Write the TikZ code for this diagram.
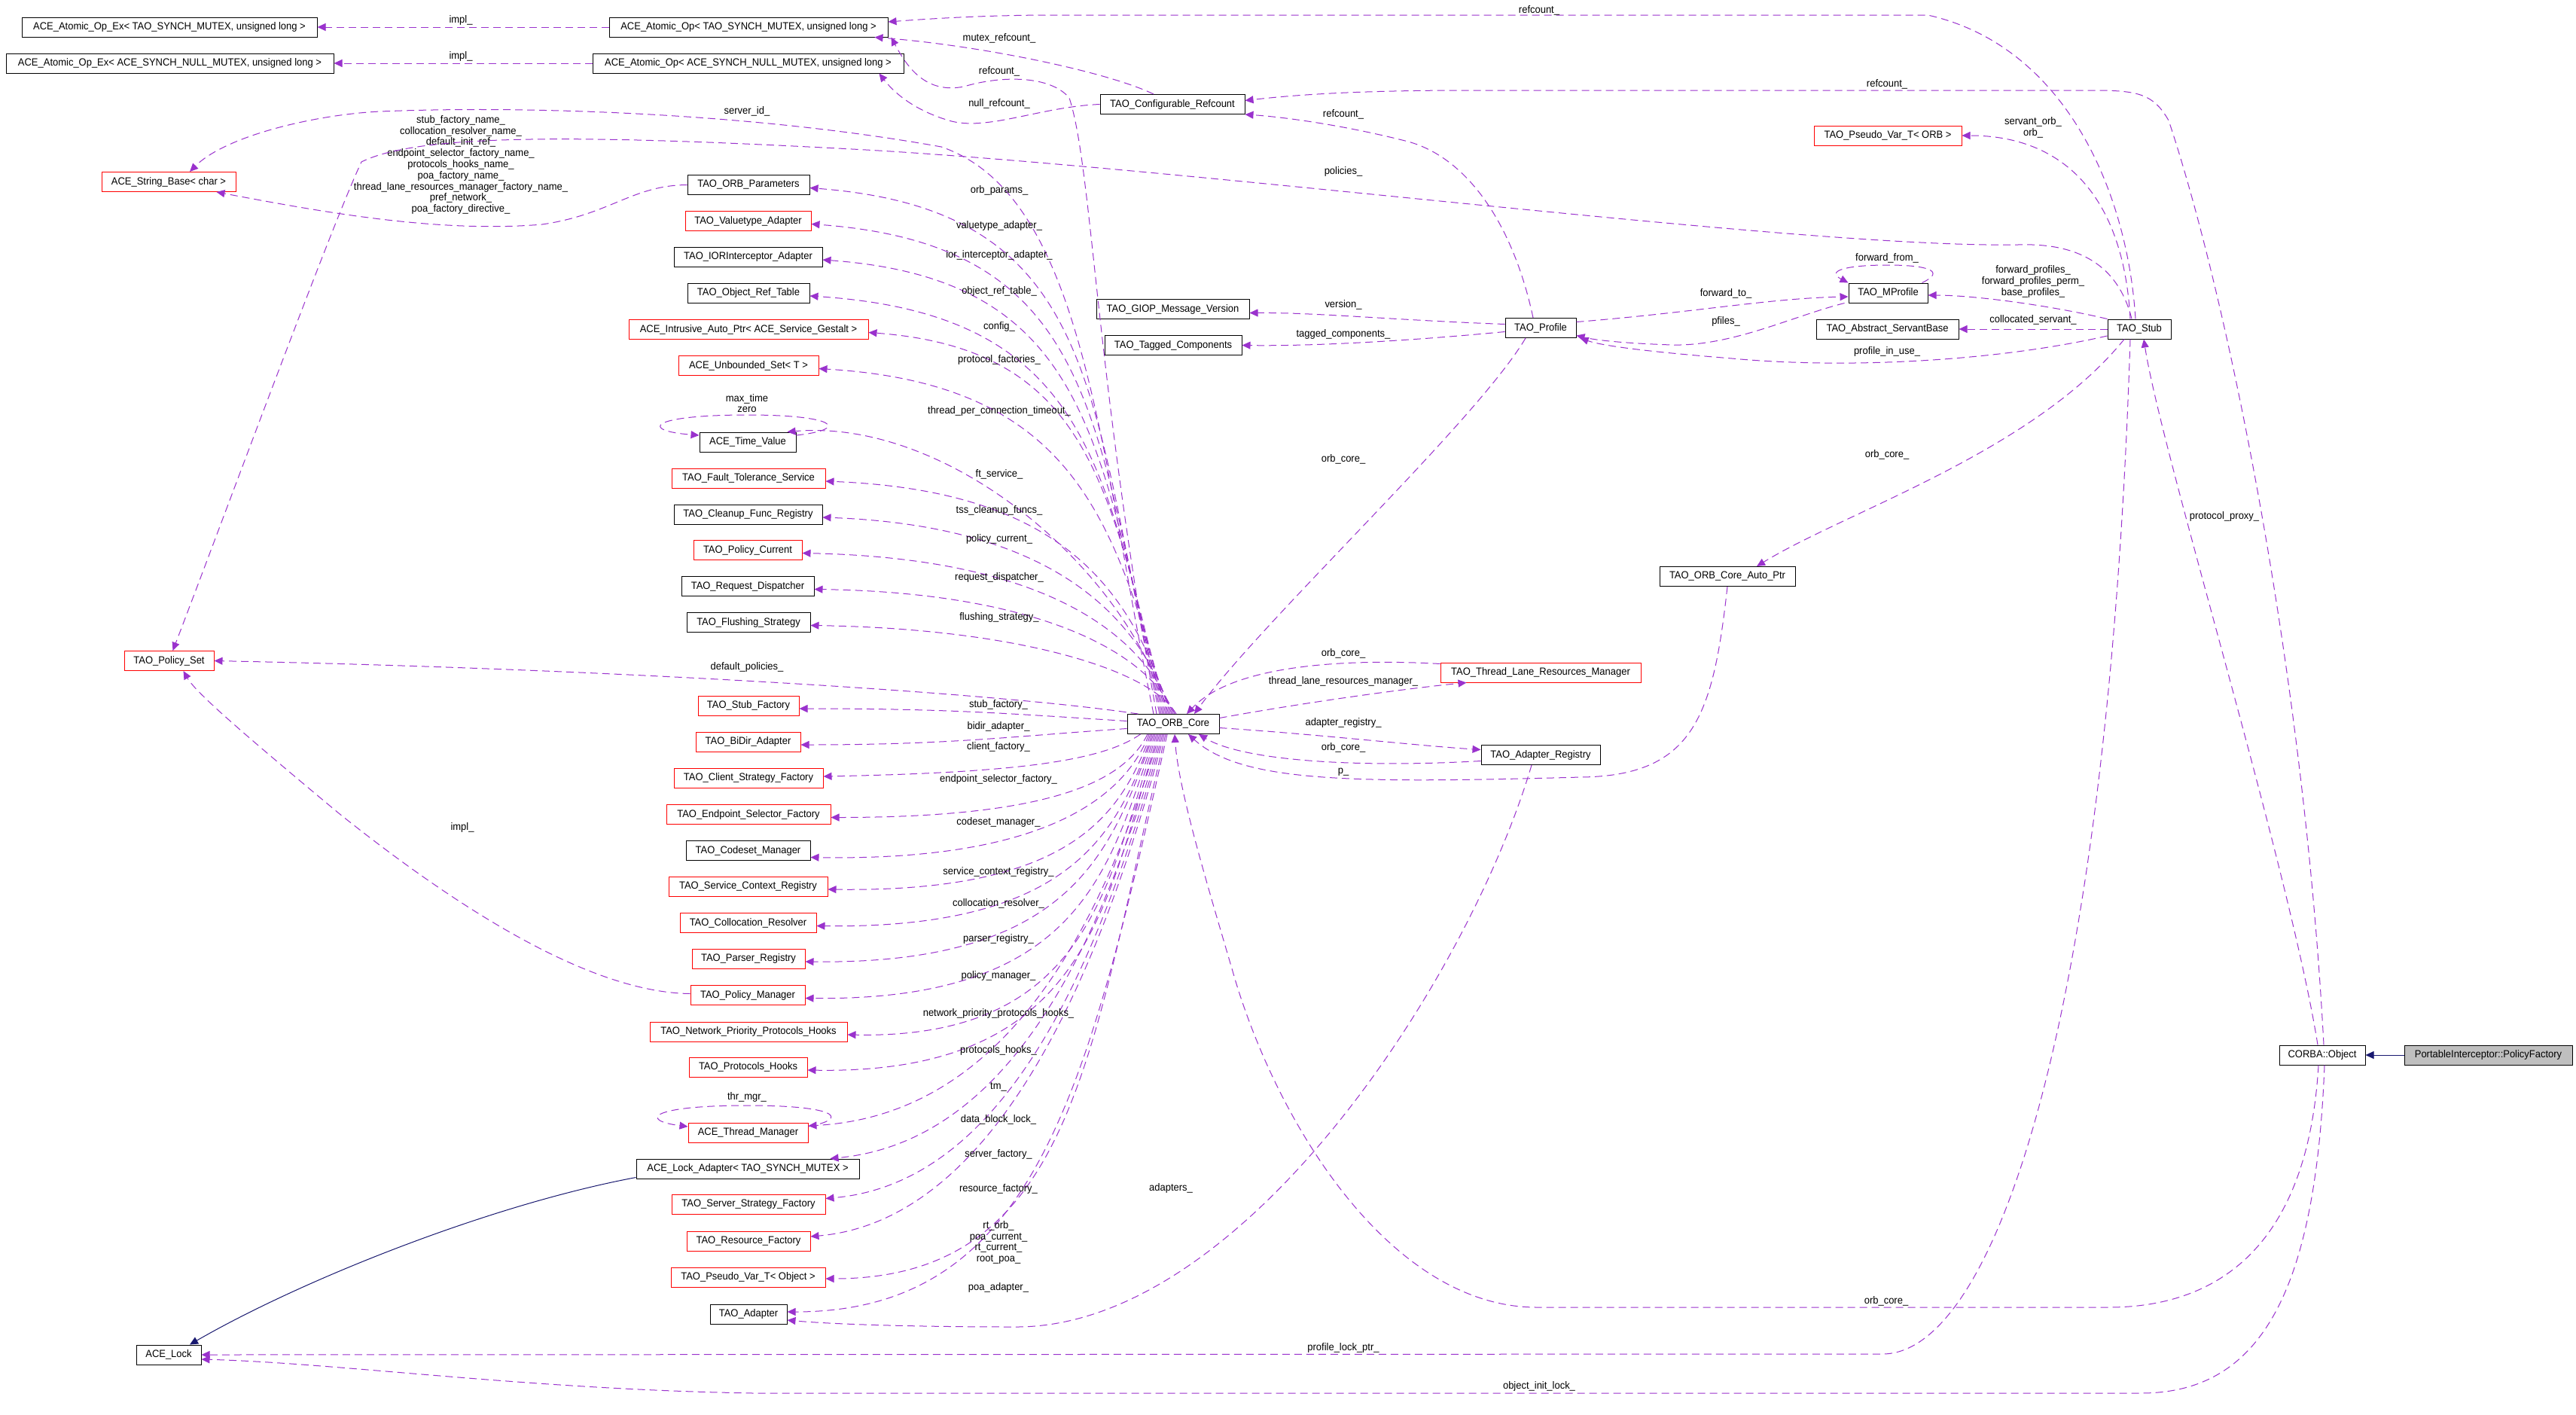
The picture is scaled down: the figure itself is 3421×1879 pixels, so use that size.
\documentclass[tikz,border=0pt]{standalone}
\usepackage{fontspec}
\setmainfont{Liberation Sans}[FakeStretch=0.94]
\usetikzlibrary{arrows.meta,calc}
\definecolor{memc}{HTML}{9A32CD}
\definecolor{inhc}{HTML}{191970}
\definecolor{gfill}{HTML}{BFBFBF}
\begin{document}
\begin{tikzpicture}[x=0.5pt,y=-0.5pt,
  every node/.style={font=\fontsize{6.9pt}{7.4pt}\selectfont},
  cls/.style={draw=black,line width=0.5pt,minimum height=13pt,inner sep=0pt},
  clsr/.style={cls,draw=red},
  clsg/.style={cls,fill=gfill},
  mem/.style={draw=memc,line width=0.5pt,dash pattern=on 5pt off 3pt,-{Triangle[length=5.5pt,width=5pt,fill=memc]}},
  inh/.style={draw=inhc,line width=0.5pt,-{Triangle[length=5.5pt,width=5pt,fill=inhc]}},
  lbl/.style={inner sep=0pt,align=center}]
\fill[white] (0,0) rectangle (3421,1879);
\useasboundingbox (0,0) rectangle (3421,1879);
% ---------- nodes ----------
\node[cls,minimum width=196pt] (exmutex) at (225,36) {ACE\_Atomic\_Op\_Ex< TAO\_SYNCH\_MUTEX, unsigned long >};
\node[cls,minimum width=217.5pt] (exnull) at (225.5,84) {ACE\_Atomic\_Op\_Ex< ACE\_SYNCH\_NULL\_MUTEX, unsigned long >};
\node[cls,minimum width=185pt] (opmutex) at (994,36) {ACE\_Atomic\_Op< TAO\_SYNCH\_MUTEX, unsigned long >};
\node[cls,minimum width=206.5pt] (opnull) at (993.5,84) {ACE\_Atomic\_Op< ACE\_SYNCH\_NULL\_MUTEX, unsigned long >};
\node[clsr,minimum width=89pt] (strbase) at (224,241.5) {ACE\_String\_Base< char >};
\node[cls,minimum width=81pt] (params) at (994,245.5) {TAO\_ORB\_Parameters};
\node[clsr,minimum width=83.5pt] (valtype) at (993.5,293.5) {TAO\_Valuetype\_Adapter};
\node[cls,minimum width=98.5pt] (ior) at (993.5,341) {TAO\_IORInterceptor\_Adapter};
\node[cls,minimum width=81pt] (objref) at (994,389) {TAO\_Object\_Ref\_Table};
\node[clsr,minimum width=159pt] (config) at (994,437.5) {ACE\_Intrusive\_Auto\_Ptr< ACE\_Service\_Gestalt >};
\node[clsr,minimum width=93pt] (unbset) at (994,485.5) {ACE\_Unbounded\_Set< T >};
\node[cls,minimum width=64pt] (timeval) at (993,587) {ACE\_Time\_Value};
\node[clsr,minimum width=102pt] (ft) at (994,635) {TAO\_Fault\_Tolerance\_Service};
\node[cls,minimum width=98.5pt] (cleanup) at (993.5,683) {TAO\_Cleanup\_Func\_Registry};
\node[clsr,minimum width=72pt] (polcur) at (993,730.5) {TAO\_Policy\_Current};
\node[cls,minimum width=88pt] (reqdisp) at (993,778.5) {TAO\_Request\_Dispatcher};
\node[cls,minimum width=82pt] (flush) at (994,826.5) {TAO\_Flushing\_Strategy};
\node[clsr,minimum width=59.5pt] (polset) at (224.5,877.5) {TAO\_Policy\_Set};
\node[clsr,minimum width=67pt] (stubfac) at (994,937) {TAO\_Stub\_Factory};
\node[clsr,minimum width=69.5pt] (bidir) at (993.5,985) {TAO\_BiDir\_Adapter};
\node[clsr,minimum width=99pt] (clientfac) at (994,1033) {TAO\_Client\_Strategy\_Factory};
\node[clsr,minimum width=109pt] (endpoint) at (994,1081.5) {TAO\_Endpoint\_Selector\_Factory};
\node[cls,minimum width=82.5pt] (codeset) at (993.5,1129.5) {TAO\_Codeset\_Manager};
\node[clsr,minimum width=105.5pt] (svcctx) at (993.5,1177) {TAO\_Service\_Context\_Registry};
\node[clsr,minimum width=90.5pt] (colloc) at (993.5,1225.5) {TAO\_Collocation\_Resolver};
\node[clsr,minimum width=75pt] (parser) at (994,1273) {TAO\_Parser\_Registry};
\node[clsr,minimum width=76pt] (polmgr) at (993,1321.5) {TAO\_Policy\_Manager};
\node[clsr,minimum width=131pt] (nethooks) at (994,1370) {TAO\_Network\_Priority\_Protocols\_Hooks};
\node[clsr,minimum width=78.5pt] (prothooks) at (993.5,1417) {TAO\_Protocols\_Hooks};
\node[clsr,minimum width=79.5pt] (thrmgr) at (993.5,1504) {ACE\_Thread\_Manager};
\node[cls,minimum width=148pt] (lockadapter) at (993,1552) {ACE\_Lock\_Adapter< TAO\_SYNCH\_MUTEX >};
\node[clsr,minimum width=102pt] (serverfac) at (994,1599.5) {TAO\_Server\_Strategy\_Factory};
\node[clsr,minimum width=82pt] (resfac) at (994,1648) {TAO\_Resource\_Factory};
\node[clsr,minimum width=102.5pt] (pseudoobj) at (993.5,1696) {TAO\_Pseudo\_Var\_T< Object >};
\node[cls,minimum width=51pt] (adapter) at (994,1745) {TAO\_Adapter};
\node[cls,minimum width=43pt] (acelock) at (224,1799) {ACE\_Lock};
\node[cls,minimum width=96pt] (confref) at (1557,138.5) {TAO\_Configurable\_Refcount};
\node[cls,minimum width=101.5pt] (giop) at (1557.5,410.5) {TAO\_GIOP\_Message\_Version};
\node[cls,minimum width=91pt] (tagged) at (1558,458.5) {TAO\_Tagged\_Components};
\node[cls,minimum width=61pt] (orbcore) at (1558,961.5) {TAO\_ORB\_Core};
\node[clsr,minimum width=133pt] (tlrm) at (2046,893) {TAO\_Thread\_Lane\_Resources\_Manager};
\node[cls,minimum width=79pt] (adreg) at (2046,1002.5) {TAO\_Adapter\_Registry};
\node[cls,minimum width=47pt] (profile) at (2046,435.5) {TAO\_Profile};
\node[cls,minimum width=52.5pt] (mprofile) at (2507.5,389) {TAO\_MProfile};
\node[cls,minimum width=94.5pt] (servantbase) at (2506.5,437) {TAO\_Abstract\_ServantBase};
\node[clsr,minimum width=98pt] (pseudoorb) at (2507,180) {TAO\_Pseudo\_Var\_T< ORB >};
\node[cls,minimum width=90pt] (autoptr) at (2294,765.5) {TAO\_ORB\_Core\_Auto\_Ptr};
\node[cls,minimum width=42pt] (stub) at (2841,437) {TAO\_Stub};
\node[cls,minimum width=57pt] (corbaobj) at (3084,1401) {CORBA::Object};
\node[clsg,minimum width=111.5pt] (policyfac) at (3304.5,1401) {PortableInterceptor::PolicyFactory};
% ---------- inheritance ----------
\draw[inh] (policyfac.west) -- (corbaobj.east);
\draw[inh] ($(lockadapter.south west)+(0,-2)$) .. controls (650,1600) and (400,1700) .. ($(acelock.north)+(28,0)$);
% ---------- top-left ----------
\draw[mem] (opmutex.west) -- (exmutex.east);
\draw[mem] (opnull.west) -- (exnull.east);
\node[lbl] (l-impl1) at (612,27) {impl\_};
\node[lbl] (l-impl2) at (612,75) {impl\_};
\draw[mem] ($(confref.north)+(-25,0)$) .. controls (1470,95) and (1300,60) .. ($(opmutex.south east)+(-18,0)$);
\node[lbl] (l-mutexref) at (1327,51) {mutex\_refcount\_};
\draw[mem] (confref.west) .. controls (1380,142) and (1310,175) .. (1260,160) .. controls (1210,145) and (1185,120) .. ($(opnull.south east)+(-33,0)$);
\node[lbl] (l-nullref) at (1327,138) {null\_refcount\_};
\draw[mem] ($(orbcore.north)+(-22,0)$) .. controls (1455,500) and (1450,220) .. (1420,130) .. controls (1395,100) and (1330,100) .. (1280,115) .. controls (1230,125) and (1205,90) .. ($(opmutex.south east)+(4,0)$);
\node[lbl] (l-orbref) at (1327,95) {refcount\_};
\draw[mem] ($(stub.north)+(-5,0)$) .. controls (2825,250) and (2740,60) .. (2560,20) -- (1400,20) .. controls (1300,20) and (1220,26) .. ($(opmutex.east)+(0,-7)$);
\node[lbl] (l-stubref) at (2044,14) {refcount\_};
\draw[mem] ($(corbaobj.north)+(2,0)$) .. controls (3060,900) and (2960,400) .. (2880,160) .. controls (2860,125) and (2840,120) .. (2780,120) -- (1950,120) .. controls (1800,120) and (1720,126) .. ($(confref.east)+(0,-5)$);
\node[lbl] (l-objref) at (2506,112) {refcount\_};
\draw[mem] ($(profile.north)+(-10,0)$) .. controls (2010,300) and (1950,210) .. (1870,188) .. controls (1780,165) and (1700,155) .. (confref.south east);
\node[lbl] (l-profref) at (1784,152) {refcount\_};
% ---------- string base / policy set ----------
\draw[mem] ($(orbcore.north)+(-26,0)$) .. controls (1460,600) and (1440,260) .. (1250,195) .. controls (1000,150) and (700,140) .. (505,148) .. controls (420,152) and (300,180) .. ($(strbase.north)+(28,0)$);
\node[lbl] (l-serverid) at (992,148) {server\_id\_};
\draw[mem] (params.west) .. controls (840,246) and (810,285) .. (720,298) .. controls (580,310) and (420,280) .. ($(strbase.south east)+(-26,0)$);
\node[lbl] (l-names) at (612,219) {stub\_factory\_name\_\\collocation\_resolver\_name\_\\default\_init\_ref\_\\endpoint\_selector\_factory\_name\_\\protocols\_hooks\_name\_\\poa\_factory\_name\_\\thread\_lane\_resources\_manager\_factory\_name\_\\pref\_network\_\\poa\_factory\_directive\_};
\draw[mem] ($(stub.north)+(-10,0)$) .. controls (2815,360) and (2770,322) .. (2680,325) .. controls (2400,330) and (1600,225) .. (1150,199) .. controls (800,180) and (560,175) .. (480,215) .. controls (440,300) and (300,680) .. ($(polset.north)+(5,0)$);
\node[lbl] (l-policies) at (1784,228) {policies\_};
\draw[mem] ($(orbcore.north west)+(15,0)$) .. controls +(-200,-30) and +(500,10) .. (polset.east);
\node[lbl] (l-defpol) at (992,886) {default\_policies\_};
\draw[mem] ($(polmgr.west)+(0,-2)$) .. controls (780,1318) and (600,1200) .. (450,1080) .. controls (330,980) and (260,920) .. ($(polset.south)+(19,0)$);
\node[lbl] (l-implps) at (614,1099) {impl\_};
% ---------- upper fan ----------
\draw[mem] ($(orbcore.north)+(-18,0)$) .. controls +(-95,-420) and +(390,30) .. ($(params.east)+(0,4)$);
\draw[mem] ($(orbcore.north)+(-16,0)$) .. controls +(-90,-390) and +(380,28) .. ($(valtype.east)+(0,4)$);
\draw[mem] ($(orbcore.north)+(-14,0)$) .. controls +(-85,-360) and +(355,26) .. ($(ior.east)+(0,4)$);
\draw[mem] ($(orbcore.north)+(-12,0)$) .. controls +(-80,-330) and +(370,24) .. ($(objref.east)+(0,4)$);
\draw[mem] ($(orbcore.north)+(-10,0)$) .. controls +(-75,-300) and +(295,22) .. ($(config.east)+(0,4)$);
\draw[mem] ($(orbcore.north)+(-8,0)$) .. controls +(-70,-270) and +(330,20) .. ($(unbset.east)+(0,4)$);
\draw[mem] ($(orbcore.north)+(-6,0)$) .. controls +(-60,-200) and +(210,-18) .. ($(timeval.north east)+(-12,0)$);
\draw[mem] ($(orbcore.north)+(-4,0)$) .. controls +(-55,-180) and +(300,12) .. ($(ft.east)+(0,4)$);
\draw[mem] ($(orbcore.north)+(-2,0)$) .. controls +(-50,-150) and +(280,10) .. ($(cleanup.east)+(0,4)$);
\draw[mem] ($(orbcore.north)+(0,0)$) .. controls +(-45,-120) and +(300,6) .. ($(polcur.east)+(0,4)$);
\draw[mem] ($(orbcore.north)+(2,0)$) .. controls +(-40,-90) and +(280,4) .. ($(reqdisp.east)+(0,4)$);
\draw[mem] ($(orbcore.north)+(4,0)$) .. controls +(-35,-60) and +(270,4) .. ($(flush.east)+(0,4)$);
\node[lbl] (l-orbparams) at (1327,253) {orb\_params\_};
\node[lbl] (l-valtype) at (1327,300) {valuetype\_adapter\_};
\node[lbl] (l-ior) at (1327,339) {ior\_interceptor\_adapter\_};
\node[lbl] (l-objtab) at (1327,387) {object\_ref\_table\_};
\node[lbl] (l-config) at (1327,434) {config\_};
\node[lbl] (l-protfac) at (1327,478) {protocol\_factories\_};
\node[lbl] (l-tpct) at (1327,546) {thread\_per\_connection\_timeout\_};
\node[lbl] (l-ft) at (1327,630) {ft\_service\_};
\node[lbl] (l-tss) at (1327,678) {tss\_cleanup\_funcs\_};
\node[lbl] (l-polcur) at (1327,716) {policy\_current\_};
\node[lbl] (l-reqdisp) at (1327,767) {request\_dispatcher\_};
\node[lbl] (l-flush) at (1327,820) {flushing\_strategy\_};
% self loops
\draw[mem] ($(timeval.east)+(0,-9)$) .. controls (1130,570) and (1110,551) .. (993,551) .. controls (860,551) and (850,572) .. ($(timeval.west)+(0,-9)$);
\node[lbl] (l-maxtime) at (992,535.5) {max\_time\\zero};
\draw[mem] ($(thrmgr.east)+(0,-8)$) .. controls (1130,1485) and (1110,1468) .. (993,1468) .. controls (860,1468) and (850,1488) .. ($(thrmgr.west)+(0,-8)$);
\node[lbl] (l-thrmgr) at (992,1457) {thr\_mgr\_};
% ---------- lower fan ----------
\draw[mem] ($(orbcore.west)+(0,-4)$) .. controls +(-160,-10) and +(200,0) .. ($(stubfac.east)+(0,4)$);
\draw[mem] ($(orbcore.west)+(0,6)$) .. controls +(-150,10) and +(200,0) .. ($(bidir.east)+(0,4)$);
\draw[mem] ($(orbcore.south west)+(18,0)$) .. controls +(-50,35) and +(260,-5) .. ($(clientfac.east)+(0,-2)$);
\draw[mem] ($(orbcore.south)+(-34,0)$) .. controls +(-30,60) and +(300,0) .. ($(endpoint.east)+(0,4)$);
\draw[mem] ($(orbcore.south)+(-32,0)$) .. controls +(-35,90) and +(300,5) .. ($(codeset.east)+(0,9)$);
\draw[mem] ($(orbcore.south)+(-30,0)$) .. controls +(-40,110) and +(320,4) .. ($(svcctx.east)+(0,4)$);
\draw[mem] ($(orbcore.south)+(-28,0)$) .. controls +(-45,130) and +(340,4) .. ($(colloc.east)+(0,4)$);
\draw[mem] ($(orbcore.south)+(-26,0)$) .. controls +(-55,150) and +(360,4) .. ($(parser.east)+(0,4)$);
\draw[mem] ($(orbcore.south)+(-24,0)$) .. controls +(-60,175) and +(370,4) .. ($(polmgr.east)+(0,4)$);
\draw[mem] ($(orbcore.south)+(-22,0)$) .. controls +(-65,200) and +(320,6) .. ($(nethooks.east)+(0,4)$);
\draw[mem] ($(orbcore.south)+(-20,0)$) .. controls +(-70,230) and +(370,6) .. ($(prothooks.east)+(0,4)$);
\draw[mem] ($(orbcore.south)+(-18,0)$) .. controls +(-78,260) and +(260,-14) .. ($(thrmgr.east)+(0,-9)$);
\draw[mem] ($(orbcore.south)+(-16,0)$) .. controls +(-85,300) and +(230,-22) .. ($(lockadapter.north east)+(-39,0)$);
\draw[mem] ($(orbcore.south)+(-14,0)$) .. controls +(-90,330) and +(230,-20) .. ($(serverfac.east)+(0,-8)$);
\draw[mem] ($(orbcore.south)+(-12,0)$) .. controls +(-95,360) and +(230,-20) .. ($(resfac.east)+(0,-6)$);
\draw[mem] ($(orbcore.south)+(-10,0)$) .. controls +(-100,420) and +(330,0) .. ($(pseudoobj.east)+(0,2)$);
\draw[mem] ($(orbcore.south)+(-8,0)$) .. controls +(-105,470) and +(330,0) .. ($(adapter.east)+(0,-3)$);
\node[lbl] (l-stubfac) at (1326,936) {stub\_factory\_};
\node[lbl] (l-bidir) at (1326,965) {bidir\_adapter\_};
\node[lbl] (l-client) at (1326,992) {client\_factory\_};
\node[lbl] (l-endpoint) at (1326,1035) {endpoint\_selector\_factory\_};
\node[lbl] (l-codeset) at (1326,1092) {codeset\_manager\_};
\node[lbl] (l-svcctx) at (1326,1158) {service\_context\_registry\_};
\node[lbl] (l-colloc) at (1326,1200) {collocation\_resolver\_};
\node[lbl] (l-parser) at (1326,1247) {parser\_registry\_};
\node[lbl] (l-polmgr) at (1326,1296) {policy\_manager\_};
\node[lbl] (l-nethooks) at (1326,1346) {network\_priority\_protocols\_hooks\_};
\node[lbl] (l-prothooks) at (1326,1395) {protocols\_hooks\_};
\node[lbl] (l-tm) at (1326,1443) {tm\_};
\node[lbl] (l-dblock) at (1326,1487) {data\_block\_lock\_};
\node[lbl] (l-server) at (1326,1533) {server\_factory\_};
\node[lbl] (l-resfac) at (1326,1579) {resource\_factory\_};
\node[lbl] (l-rtorb) at (1326,1650) {rt\_orb\_\\poa\_current\_\\rt\_current\_\\root\_poa\_};
\node[lbl] (l-poaad) at (1326,1710) {poa\_adapter\_};
% ---------- adapters ----------
\draw[mem] ($(adreg.south)+(-12,0)$) .. controls (1950,1300) and (1650,1762) .. (1350,1762) .. controls (1200,1762) and (1100,1758) .. ($(adapter.east)+(0,8)$);
\node[lbl] (l-adapters) at (1555,1578) {adapters\_};
% ---------- ORB core neighbours ----------
\draw[mem] ($(orbcore.east)+(0,-8)$) .. controls (1720,935) and (1860,915) .. ($(tlrm.south west)+(35,0)$);
\node[lbl] (l-tlrm) at (1784,905) {thread\_lane\_resources\_manager\_};
\draw[mem] ($(tlrm.north west)+(0,2)$) .. controls (1800,875) and (1640,880) .. ($(orbcore.north)+(18,0)$);
\node[lbl] (l-tlrmorb) at (1784,868) {orb\_core\_};
\draw[mem] ($(orbcore.east)+(0,5)$) .. controls (1750,975) and (1880,990) .. ($(adreg.west)+(0,-7)$);
\node[lbl] (l-adreg) at (1784,960) {adapter\_registry\_};
\draw[mem] ($(adreg.west)+(0,8)$) .. controls (1800,1020) and (1650,1010) .. ($(orbcore.south)+(34,0)$);
\node[lbl] (l-adregorb) at (1784,993) {orb\_core\_};
\draw[mem] (autoptr.south) .. controls (2275,950) and (2250,1030) .. (2100,1032) .. controls (1800,1040) and (1650,1040) .. ($(orbcore.south)+(20,0)$);
\node[lbl] (l-p) at (1784,1025) {p\_};
% ---------- profile ----------
\draw[mem] ($(profile.west)+(0,-5)$) .. controls (1850,425) and (1750,415) .. ($(giop.east)+(0,5)$);
\node[lbl] (l-version) at (1784,405) {version\_};
\draw[mem] ($(profile.west)+(0,5)$) .. controls (1900,450) and (1760,460) .. (tagged.east);
\node[lbl] (l-tagged) at (1784,444) {tagged\_components\_};
\draw[mem] ($(profile.east)+(0,-8)$) .. controls (2250,415) and (2350,396) .. ($(mprofile.west)+(0,5)$);
\node[lbl] (l-fwdto) at (2292,390) {forward\_to\_};
\draw[mem] ($(mprofile.south west)+(-5,0)$) .. controls (2380,420) and (2300,460) .. (2220,458) .. controls (2160,456) and (2120,452) .. ($(profile.east)+(0,10)$);
\node[lbl] (l-pfiles) at (2292,427) {pfiles\_};
\draw[mem] ($(profile.south)+(-20,0)$) .. controls (1960,560) and (1680,820) .. ($(orbcore.north)+(28,0)$);
\node[lbl] (l-proforb) at (1784,610) {orb\_core\_};
\draw[mem] ($(mprofile.north east)+(-8,0)$) .. controls (2585,360) and (2560,352) .. (2507,352) .. controls (2450,352) and (2425,360) .. (mprofile.north west);
\node[lbl] (l-fwdfrom) at (2506,343) {forward\_from\_};
% ---------- stub ----------
\draw[mem] (stub.north west) .. controls (2720,405) and (2620,392) .. ($(mprofile.east)+(0,3)$);
\node[lbl] (l-fwdprof) at (2700,374) {forward\_profiles\_\\forward\_profiles\_perm\_\\base\_profiles\_};
\draw[mem] (stub.west) -- (servantbase.east);
\node[lbl] (l-colserv) at (2700,425) {collocated\_servant\_};
\draw[mem] ($(stub.west)+(0,9)$) .. controls (2650,480) and (2450,490) .. (2300,476) .. controls (2200,468) and (2130,460) .. ($(profile.south east)+(5,0)$);
\node[lbl] (l-inuse) at (2506,467) {profile\_in\_use\_};
\draw[mem] ($(stub.north)+(-12,0)$) .. controls (2820,260) and (2740,180) .. (pseudoorb.east);
\node[lbl] (l-servorb) at (2700,169) {servant\_orb\_\\orb\_};
\draw[mem] ($(stub.south)+(-20,0)$) .. controls (2700,600) and (2450,680) .. ($(autoptr.north)+(39,0)$);
\node[lbl] (l-stuborb) at (2506,604) {orb\_core\_};
\draw[mem] ($(stub.south)+(-12,0)$) .. controls (2800,1350) and (2650,1798) .. (2500,1798) -- (acelock.east);
\node[lbl] (l-proflock) at (1784,1790) {profile\_lock\_ptr\_};
% ---------- CORBA::Object ----------
\draw[mem] ($(corbaobj.north)+(-6,0)$) .. controls (3040,1150) and (2870,600) .. ($(stub.south)+(6,0)$);
\node[lbl] (l-pproxy) at (2954,686) {protocol\_proxy\_};
\draw[mem] ($(corbaobj.south)+(-5,0)$) .. controls (3065,1650) and (2950,1736) .. (2800,1736) -- (2041,1736) .. controls (1850,1736) and (1700,1500) .. (1640,1300) .. controls (1605,1180) and (1565,1050) .. ($(orbcore.south)+(2,0)$);
\node[lbl] (l-objorb) at (2505,1728) {orb\_core\_};
\draw[mem] ($(corbaobj.south)+(3,0)$) .. controls (3075,1720) and (3000,1850) .. (2843,1850) -- (1000,1850) .. controls (700,1845) and (450,1810) .. ($(acelock.east)+(0,6)$);
\node[lbl] (l-initlock) at (2044,1841) {object\_init\_lock\_};
\end{tikzpicture}
\end{document}
